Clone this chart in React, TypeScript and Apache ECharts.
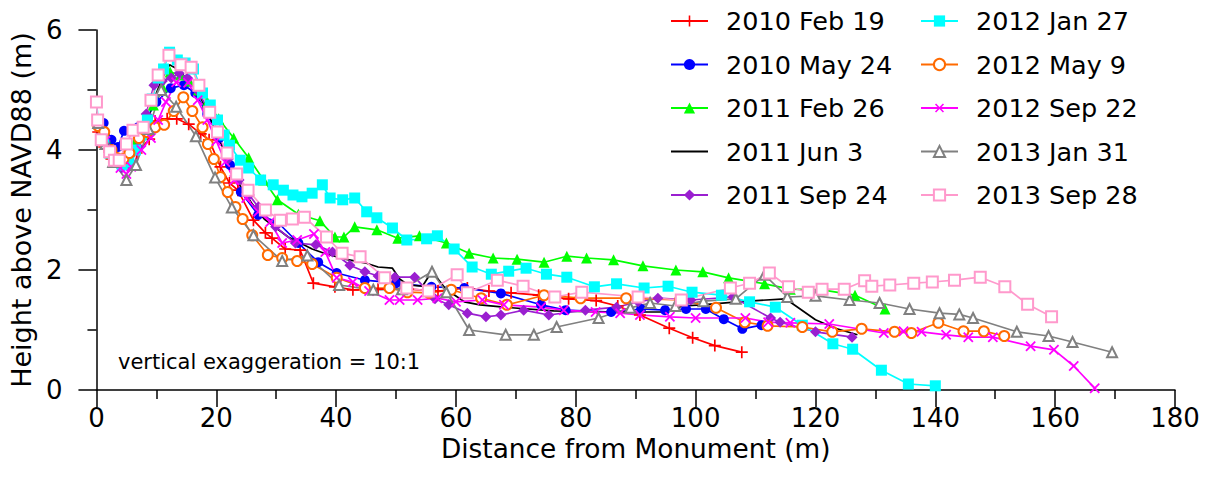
import React, { useEffect, useRef } from "react";
import * as echarts from "echarts";

type P = [number, number];

const seriesNames = [
  "2010 Feb 19", "2010 May 24", "2011 Feb 26", "2011 Jun 3", "2011 Sep 24",
  "2012 Jan 27", "2012 May 9", "2012 Sep 22", "2013 Jan 31", "2013 Sep 28",
];

const xTicks = [0, 20, 40, 60, 80, 100, 120, 140, 160, 180];
const yTicks = [0, 2, 4, 6];

const feb2010: P[] = [[0.3,4.3],[1.3,4.05],[2.5,3.85],[3.8,3.78],[5.2,3.8],[6.7,3.95],[8.8,4.18],[9.8,4.48],[11.8,4.52],[13.4,4.52],[15.4,4.43],[17.4,4.27],[18.8,4.17],[20.7,3.72],[22.2,3.45],[23.6,3.33],[26.2,2.83],[28.2,2.62],[29.3,2.53],[31.5,2.35],[34,2.33],[36.2,1.78],[39.8,1.72],[42.8,1.67],[47,1.68],[52,1.68],[57,1.65],[61.9,1.7],[65.5,1.65],[69.2,1.62],[73.8,1.58],[78.8,1.52],[83.4,1.49],[87,1.4],[90.7,1.25],[95.6,1.03],[99.5,0.87],[103.2,0.74],[107.7,0.63]];
const may2010: P[] = [[0.3,4.45],[1.2,4.45],[2.5,4.17],[3.6,4.05],[4.6,4.32],[7,4.38],[8.5,4.55],[10,4.8],[12.4,5.03],[14.6,5.08],[16.5,4.95],[18.5,4.6],[20.5,4.2],[22.3,3.75],[24.1,3.3],[27,2.92],[30.2,2.8],[33.7,2.45],[37,2.13],[40.1,1.95],[44.8,1.83],[50,1.78],[55.9,1.72],[61.4,1.7],[67.5,1.61],[74.2,1.42],[78.3,1.33],[85.9,1.3],[90.9,1.35],[94.9,1.33],[98.4,1.35],[101.7,1.35],[104.7,1.18],[107.8,1.02],[111,1.08]];
const feb2011: P[] = [[0.3,4.45],[1.5,4.2],[2.5,3.95],[3.5,3.85],[5,3.85],[6.5,4.15],[8,4.45],[9.5,4.75],[11,5.05],[12.3,5.3],[14,5.25],[15.5,5.15],[17,5],[18.5,4.8],[20.4,4.52],[22.9,4.2],[25.4,3.87],[27.9,3.5],[30.2,3.17],[33.7,2.93],[37.3,2.82],[39.8,2.55],[41.3,2.55],[43.1,2.72],[46.8,2.67],[50.3,2.53],[53.9,2.57],[58.4,2.45],[62.2,2.28],[66.2,2.2],[70.2,2.18],[74.7,2.13],[78.5,2.23],[81.8,2.2],[86.3,2.17],[91.2,2.07],[96.7,2],[101.2,1.97],[105.5,1.87],[111.5,1.77],[115.8,1.68],[121.1,1.67],[126.6,1.58],[131.6,1.35]];
const jun2011: P[] = [[0.3,4.45],[1.5,4.25],[2.8,3.95],[4,3.75],[5.5,3.85],[7,4.2],[8.5,4.5],[10,4.95],[11,5.2],[12.2,5.42],[13.5,5.35],[15,5.2],[16.5,5.05],[18,4.75],[20,4.3],[22,3.8],[24,3.4],[26,3.1],[28,2.85],[30,2.7],[32,2.55],[34,2.45],[36,2.35],[38,2.28],[41.5,2.18],[44.8,2.12],[47,2.05],[49.4,2.03],[50.6,1.85],[52,1.75],[54.4,1.73],[56,1.98],[58,1.72],[59.5,1.6],[61.4,1.47],[64,1.42],[68,1.38],[76.3,1.32],[84.6,1.3],[94.6,1.3],[97.9,1.4],[101,1.42],[107,1.47],[115,1.52],[120,1.17],[123.3,1.03],[127,0.92]];
const sep2011: P[] = [[0.3,4.45],[1.5,4.15],[2.8,3.85],[4.2,3.7],[5.5,3.75],[7,4.05],[8.3,4.6],[9.6,5.08],[11,5.15],[12.5,5.2],[13.8,5.28],[15.2,5.2],[16.8,5],[18.5,4.7],[20.3,4.3],[22,3.85],[23.8,3.5],[25.5,3.25],[27,3.05],[29.9,2.72],[33.2,2.45],[36.6,2.42],[39.4,2.3],[42.3,2.08],[44.8,1.97],[47,1.9],[49.8,1.88],[53.1,1.88],[56.5,1.52],[58.8,1.42],[61.9,1.28],[65,1.22],[67.5,1.25],[71.3,1.33],[75.5,1.25],[81.6,1.33],[86.8,1.38],[90.4,1.47],[93.7,1.53],[99.2,1.5],[106.2,1.55],[112.5,1.2],[114.1,1.13],[120,0.97],[126.1,0.88]];
const jan2012: P[] = [[0,4.8],[0.3,4.5],[1.2,4.2],[2.2,3.95],[3.2,3.85],[4.3,3.75],[5.4,3.8],[6.5,4],[7.5,4.25],[8.5,4.5],[9.3,4.85],[10.3,5.2],[11.2,5.35],[12.2,5.63],[13.5,5.5],[14.8,5.45],[16.2,5.35],[17.7,4.95],[19,4.75],[20.2,4.5],[21.3,4.25],[22.2,4.08],[24,3.83],[25.4,3.7],[27.4,3.5],[29.5,3.42],[31.2,3.33],[32.8,3.25],[34.3,3.22],[36,3.28],[37.7,3.42],[39,3.2],[41.1,3.17],[43.1,3.2],[45.1,2.97],[46.8,2.87],[49.4,2.7],[51.8,2.5],[55.1,2.52],[56.9,2.57],[59.7,2.35],[62.7,2.05],[65.9,1.93],[68.8,1.98],[71.7,2.03],[75.1,1.93],[78.5,1.88],[83.1,1.72],[86.8,1.77],[91.4,1.7],[95.4,1.73],[99.4,1.63],[104.3,1.58],[109,1.47],[113.3,1.38],[117.8,1.08],[122.9,0.77],[126.2,0.68],[131,0.33],[135.5,0.1],[140,0.07]];
const may2012: P[] = [[0.3,4.4],[1.3,4.3],[2.5,4],[3.3,3.87],[4.5,3.85],[5.5,3.95],[7.1,4.2],[8.5,4.3],[9.8,4.38],[11.3,4.42],[12.9,4.65],[14.5,4.88],[16,4.65],[17.7,4.38],[18.6,4.1],[19.6,3.85],[20.7,3.55],[21.9,3.3],[23.2,3.05],[24.4,2.85],[26,2.58],[28.6,2.25],[31,2.2],[33.5,2.15],[36,2.1],[40.1,1.87],[44.8,1.7],[48.9,1.7],[51.9,1.63],[55.5,1.62],[59.2,1.67],[64.2,1.53],[68.5,1.42],[74.7,1.58],[80.8,1.53],[88.4,1.53],[97.4,1.5],[103.4,1.37],[108.2,1.13],[112,1.07],[117.8,1.05],[122.8,0.97],[127.7,1.02],[133.2,0.97],[136,0.95],[140.5,1.12],[144.7,0.98],[148.1,0.98],[151.5,0.9]];
const sep2012: P[] = [[0.3,4.45],[1.5,4.15],[2.8,3.85],[4,3.7],[5,3.6],[5.8,3.72],[7.5,4],[9.1,4.2],[10.3,4.5],[11.6,4.8],[13.3,5.13],[15.3,5.12],[16.9,4.83],[18.5,4.5],[20,4.15],[21.5,3.8],[23,3.5],[25,3.2],[27,2.97],[29,2.8],[31,2.45],[33.5,2.5],[36.3,2.6],[38.2,2.3],[40.1,1.87],[42.8,1.8],[45.5,1.65],[48.9,1.5],[50.6,1.5],[53.6,1.5],[56.9,1.53],[60,1.47],[64.4,1.5],[68,1.42],[74.2,1.38],[78,1.33],[83.3,1.3],[87.4,1.28],[90.7,1.25],[95.7,1.22],[100,1.2],[108.3,1.2],[112.1,1.13],[115.8,1.12],[122.3,1.1],[131.4,0.95],[134.7,0.98],[137.7,0.97],[141.8,0.92],[145.5,0.88],[149.6,0.88],[155.9,0.73],[159.8,0.67],[163.1,0.4],[166.6,0.03]];
const jan2013: P[] = [[0.3,4.45],[1.5,4.1],[2.8,3.8],[5,3.5],[6.6,3.75],[8.7,4.35],[10.8,5],[13.3,4.72],[16.6,4.23],[19.8,3.54],[22.6,3.04],[26.2,2.58],[31,2.15],[35.2,2.24],[40.5,1.75],[46.2,1.67],[51,1.68],[56,1.97],[58.4,1.63],[62.2,1],[68.3,0.92],[73,0.92],[76.8,1.05],[83.8,1.2],[89.1,1.37],[92.4,1.45],[96.6,1.4],[101.3,1.48],[106.7,1.52],[111.5,1.92],[115.3,1.55],[120,1.57],[125.7,1.5],[130.7,1.45],[135.7,1.35],[140.7,1.28],[144,1.26],[146.3,1.2],[153.6,0.97],[158.9,0.9],[162.9,0.8],[169.5,0.63]];
const sep2013: P[] = [[0,4.8],[0.2,4.5],[0.8,4.17],[2.2,3.97],[3,3.83],[3.8,3.83],[5,4.1],[6.1,4.33],[7.8,4.38],[9.1,4.83],[10.3,5.25],[12.1,5.58],[14.1,5.42],[15.8,5.38],[17.1,5.08],[18.9,4.63],[20.2,4.3],[21.8,3.95],[23.4,3.6],[25.3,3.33],[28.2,3],[30.7,2.83],[32.7,2.85],[34.7,2.88],[38.4,2.55],[41,2.28],[44,2.22],[48.1,1.87],[51.8,1.7],[55.4,1.65],[60.2,1.92],[61.9,1.62],[66.9,1.83],[71.2,1.73],[76.5,1.55],[81,1.63],[90.4,1.55],[97.6,1.5],[105.8,1.7],[109,1.78],[112.3,1.95],[115.5,1.72],[118.8,1.63],[121.1,1.68],[124.8,1.68],[128.2,1.82],[129.4,1.73],[132.4,1.75],[136.4,1.78],[139.5,1.8],[143.2,1.83],[147.5,1.88],[151.6,1.72],[155.4,1.43],[159.4,1.22]];

const seriesData = [feb2010, may2010, feb2011, jun2011, sep2011, jan2012, may2012, sep2012, jan2013, sep2013];
const colors = ["#FF0000", "#0000FF", "#00FF00", "#000000", "#9A1FD0", "#00FFFF", "#FF6A00", "#FF00FF", "#808080", "#FF99CC"];

const PLUS = "path://M4.3,0h1.4v4.3h4.3v1.4h-4.3v4.3h-1.4v-4.3h-4.3v-1.4h4.3z";
const symbols = [PLUS, "circle", "triangle", "circle", "diamond", "rect", "emptyCircle", PLUS, "emptyTriangle", "emptyRect"];
const symbolSizes = [12, 10, 11, 0, 11, 11, 10, 13, 10, 11];
const symbolRotates = [0, 0, 0, 0, 0, 0, 0, 45, 0, 0];
const markerShown = [true, true, true, false, true, true, true, true, true, true];

const FONT = "DejaVu Sans";

export default function App() {
  const ref = useRef<HTMLDivElement>(null);
  useEffect(() => {
    if (!ref.current) return;
    const chart = echarts.init(ref.current, undefined, { renderer: "svg" });
    const legendCommon = {
      orient: "vertical" as const,
      top: 8,
      padding: 0,
      itemWidth: 37,
      itemHeight: 14,
      itemGap: 17.5,
      textStyle: { fontFamily: FONT, fontSize: 25.5, color: "#000", padding: [0, 0, 0, 13] },
    };
    chart.setOption({
      animation: false,
      backgroundColor: "#fff",
      textStyle: { fontFamily: FONT },
      grid: { left: 90, right: 32, top: 30, bottom: 97, containLabel: false },
      legend: [
        { ...legendCommon, left: 670, data: seriesNames.slice(0, 5) },
        { ...legendCommon, left: 920, data: seriesNames.slice(5) },
      ],
      xAxis: {
        type: "value",
        min: xTicks[0],
        max: xTicks[xTicks.length - 1],
        interval: xTicks[1] - xTicks[0],
        name: "Distance from Monument (m)",
        nameLocation: "middle",
        nameGap: 33,
        nameTextStyle: { fontFamily: FONT, fontSize: 26.4, color: "#000" },
        axisLine: { show: true, onZero: false, lineStyle: { color: "#000", width: 1.5 } },
        axisTick: { show: true, inside: false, length: 17, lineStyle: { color: "#000", width: 1.5 } },
        minorTick: { show: true, splitNumber: 2, length: 9, lineStyle: { color: "#000", width: 1.5 } },
        axisLabel: { fontFamily: FONT, fontSize: 26, color: "#000", margin: 15 },
        splitLine: { show: false },
      },
      yAxis: {
        type: "value",
        min: yTicks[0],
        max: yTicks[yTicks.length - 1],
        interval: yTicks[1] - yTicks[0],
        name: "Height above NAVD88 (m)",
        nameLocation: "middle",
        nameGap: 57,
        nameTextStyle: { fontFamily: FONT, fontSize: 27, color: "#000" },
        axisLine: { show: true, onZero: false, lineStyle: { color: "#000", width: 1.5 } },
        axisTick: { show: true, inside: false, length: 18, lineStyle: { color: "#000", width: 1.5 } },
        minorTick: { show: true, splitNumber: 2, length: 9, lineStyle: { color: "#000", width: 1.5 } },
        axisLabel: { fontFamily: FONT, fontSize: 26, color: "#000", margin: 34 },
        splitLine: { show: false },
      },
      graphic: [
        {
          type: "text",
          left: 118,
          top: 351,
          style: { text: "vertical exaggeration = 10:1", fontFamily: FONT, fontSize: 21, fill: "#000" },
        },
      ],
      series: seriesNames.map((name, i) => ({
        name,
        type: "line",
        data: seriesData[i],
        symbol: symbols[i],
        symbolSize: symbolSizes[i],
        symbolRotate: symbolRotates[i],
        showSymbol: markerShown[i],
        color: colors[i],
        itemStyle: {
          color: colors[i],
          opacity: markerShown[i] ? 1 : 0,
          borderWidth: symbols[i].startsWith("empty") ? 1.5 : 0,
        },
        lineStyle: { color: colors[i], width: 1.7 },
        emphasis: { disabled: true },
        clip: false,
      })),
    });
    return () => chart.dispose();
  }, []);
  return <div ref={ref} style={{ width: 1207, height: 487, margin: -8 }} />;
}
